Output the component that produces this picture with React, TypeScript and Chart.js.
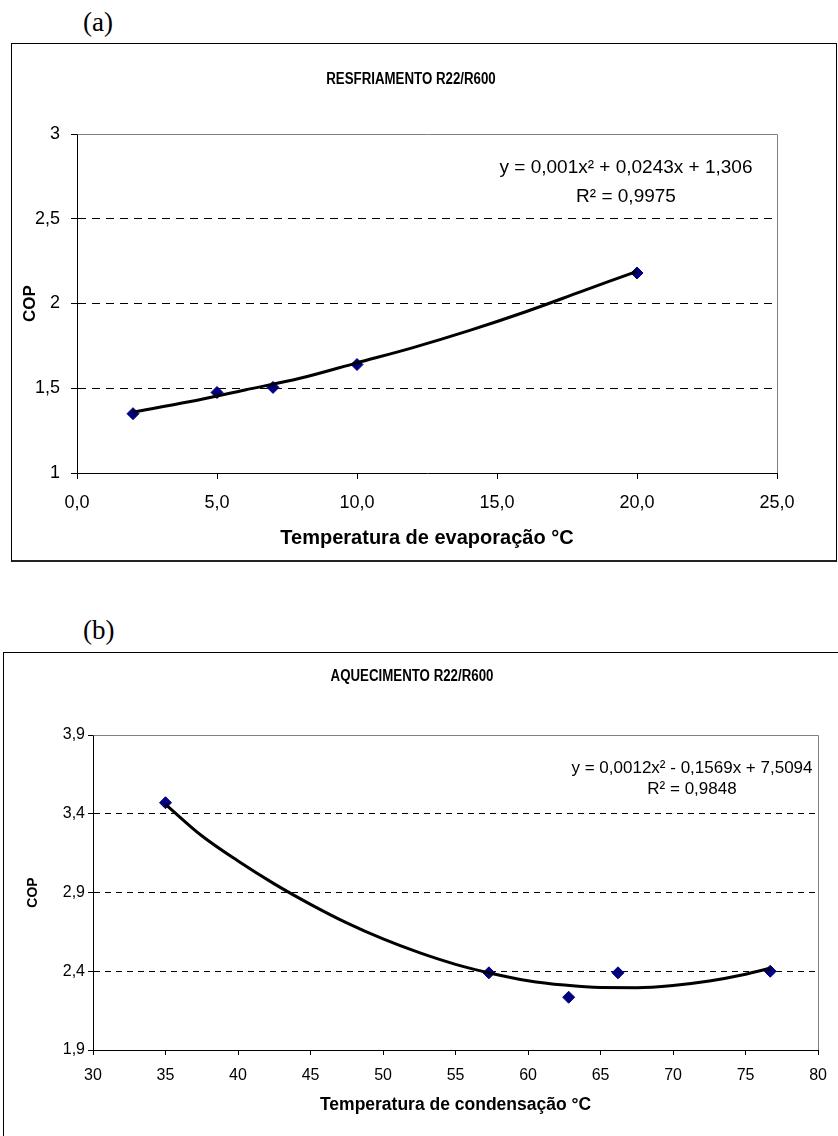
import React, { useEffect, useRef } from 'react';
import { Chart, registerables } from 'chart.js';

Chart.register(...registerables);

// ---------- (a) Resfriamento ----------
const evapTemps = [2, 5, 7, 10, 20];
const copCooling = [1.35, 1.475, 1.505, 1.64, 2.18];
const evapTrendX = [2, 4, 6, 8, 10, 12, 14, 16, 18, 20];
const evapTrendY = [1.36, 1.42, 1.49, 1.56, 1.65, 1.74, 1.84, 1.95, 2.07, 2.19];
const evapXTicks = [0, 5, 10, 15, 20, 25];
const copCoolingTicks = [1, 1.5, 2, 2.5, 3];

// ---------- (b) Aquecimento ----------
const condTemps = [35, 57.3, 62.8, 66.2, 76.7];
const copHeating = [3.47, 2.39, 2.235, 2.39, 2.4];
const condTrendX = [35, 37.5, 40, 42.5, 45, 47.5, 50, 52.5, 55, 57.5, 60, 62.5, 65, 67.5, 70, 72.5, 75, 76.7];
const condTrendY = [3.46, 3.26, 3.1, 2.955, 2.825, 2.707, 2.605, 2.518, 2.444, 2.386, 2.34, 2.312, 2.297, 2.296, 2.31, 2.338, 2.381, 2.419];
const condXTicks = [30, 35, 40, 45, 50, 55, 60, 65, 70, 75, 80];
const copHeatingTicks = [1.9, 2.4, 2.9, 3.4, 3.9];

const FONT = '"Liberation Sans", Arial, sans-serif';

const textPlugin = {
  id: 'copText',
  beforeDatasetsDraw(chart: any) {
    const { ctx, chartArea } = chart;
    ctx.save();
    // plot area frame (top + right), grey
    ctx.strokeStyle = '#808080';
    ctx.lineWidth = 1;
    ctx.setLineDash([]);
    ctx.beginPath();
    const t = Math.round(chartArea.top) + 0.5;
    const r = Math.round(chartArea.right) + 0.5;
    ctx.moveTo(Math.round(chartArea.left) + 0.5, t);
    ctx.lineTo(r, t);
    ctx.lineTo(r, Math.round(chartArea.bottom));
    ctx.stroke();
    ctx.restore();
  },
  afterDraw(chart: any, _args: any, opts: any) {
    const { ctx } = chart;
    ctx.save();
    ctx.fillStyle = '#000';
    ctx.textBaseline = 'middle';
    ctx.textAlign = 'center';
    if (opts.title) {
      const tt = opts.title;
      ctx.font = `bold ${tt.size}px ${FONT}`;
      ctx.save();
      ctx.translate(tt.x, tt.y);
      ctx.scale(tt.scaleX || 1, 1);
      ctx.fillText(tt.text, 0, 0);
      ctx.restore();
    }
    (opts.lines || []).forEach((ln: any) => {
      ctx.font = `${ln.size}px ${FONT}`;
      ctx.fillText(ln.text, ln.x, ln.y);
    });
    ctx.restore();
  },
};

const fmtComma = (d: number) => (v: number) => v.toFixed(d).replace('.', ',');
const fmtShort = (v: number) => String(v).replace('.', ',');

function makeConfig(p: any) {
  return {
    type: 'scatter',
    data: {
      datasets: [
        {
          data: p.trendX.map((x: number, i: number) => ({ x, y: p.trendY[i] })),
          showLine: true,
          pointRadius: 0,
          borderColor: '#000',
          borderWidth: 3,
          cubicInterpolationMode: 'monotone',
          fill: false,
        },
        {
          data: p.xs.map((x: number, i: number) => ({ x, y: p.ys[i] })),
          pointStyle: 'rectRot',
          pointRadius: 6,
          backgroundColor: '#000080',
          borderColor: '#000080',
          borderWidth: 1,
          showLine: false,
        },
      ],
    },
    options: {
      responsive: false,
      animation: false,
      devicePixelRatio: 1,
      layout: { padding: { top: p.padTop, right: p.padRight, left: 0, bottom: 0 } },
      plugins: {
        legend: { display: false },
        tooltip: { enabled: false },
        title: { display: false },
        copText: { title: p.title, lines: p.lines },
      },
      scales: {
        x: {
          type: 'linear',
          min: p.xTicks[0],
          max: p.xTicks[p.xTicks.length - 1],
          afterBuildTicks: (s: any) => { s.ticks = p.xTicks.map((v: number) => ({ value: v })); },
          afterFit: (s: any) => { s.height = p.xH; },
          ticks: { callback: p.xFmt, font: { family: FONT, size: p.tickSize }, color: '#000', padding: p.xTickPad, maxRotation: 0, autoSkip: false },
          grid: { drawOnChartArea: false, drawTicks: true, tickLength: p.tickLen, tickColor: '#000', color: '#000' },
          border: { display: true, color: '#000', width: 1 },
          title: { display: true, text: p.xTitle, color: '#000', font: { family: FONT, size: p.xTitleSize, weight: 'bold' }, padding: { top: 0, bottom: p.xTitlePad } },
        },
        y: {
          type: 'linear',
          min: p.yTicks[0],
          max: p.yTicks[p.yTicks.length - 1],
          afterBuildTicks: (s: any) => { s.ticks = p.yTicks.map((v: number) => ({ value: v })); },
          afterFit: (s: any) => { s.width = p.yW; },
          ticks: { callback: p.yFmt, font: { family: FONT, size: p.tickSize }, color: '#000', padding: p.yTickPad, autoSkip: false },
          grid: { drawOnChartArea: true, drawTicks: true, tickLength: p.tickLen, tickColor: '#000', color: '#000', lineWidth: 1 },
          border: { display: true, color: '#000', width: 1, dash: p.dash },
          title: { display: true, text: 'COP', color: '#000', font: { family: FONT, size: p.yTitleSize, weight: 'bold' }, padding: { top: p.yTitlePad, bottom: 0 } },
        },
      },
    },
    plugins: [textPlugin],
  };
}

function ChartCanvas({ params, width, height }: any) {
  const ref = useRef<HTMLCanvasElement>(null);
  useEffect(() => {
    const chart = new Chart(ref.current as HTMLCanvasElement, makeConfig(params) as any);
    return () => chart.destroy();
  }, []);
  return <canvas ref={ref} width={width} height={height} style={{ display: 'block', width, height }} />;
}

const paramsA = {
  xs: evapTemps, ys: copCooling, trendX: evapTrendX, trendY: evapTrendY,
  xTicks: evapXTicks, yTicks: copCoolingTicks,
  xFmt: fmtComma(1), yFmt: fmtShort,
  padTop: 90, padRight: 59, yW: 65, xH: 87,
  tickSize: 18, tickLen: 6, xTickPad: 13, yTickPad: 11,
  xTitle: 'Temperatura de evaporação °C', xTitleSize: 20, xTitlePad: 10,
  yTitleSize: 17, yTitlePad: 8,
  dash: [8, 6],
  title: { text: 'RESFRIAMENTO R22/R600', x: 411 - 12, y: 36, size: 16, scaleX: 0.83 },
  lines: [
    { text: 'y = 0,001x² + 0,0243x + 1,306', x: 614, y: 124, size: 19 },
    { text: 'R² = 0,9975', x: 614, y: 153, size: 19 },
  ],
};

const paramsB = {
  xs: condTemps, ys: copHeating, trendX: condTrendX, trendY: condTrendY,
  xTicks: condXTicks, yTicks: copHeatingTicks,
  xFmt: (v: number) => String(v), yFmt: fmtComma(1),
  padTop: 82, padRight: 11, yW: 89, xH: 86,
  tickSize: 16, tickLen: 5, xTickPad: 11, yTickPad: 3,
  xTitle: 'Temperatura de condensação °C', xTitleSize: 17.5, xTitlePad: 20,
  yTitleSize: 14, yTitlePad: 21,
  dash: [6, 5],
  title: { text: 'AQUECIMENTO R22/R600', x: 408, y: 24, size: 16, scaleX: 0.83 },
  lines: [
    { text: 'y = 0,0012x² - 0,1569x + 7,5094', x: 688, y: 115, size: 17 },
    { text: 'R² = 0,9848', x: 688, y: 136, size: 17 },
  ],
};

export default function App() {
  return (
    <div style={{ position: 'absolute', left: 0, top: 0, width: 838, height: 1136, overflow: 'hidden', background: '#fff' }}>
      <div style={{ position: 'absolute', left: 83, top: 7, font: '27px "Liberation Serif", serif', lineHeight: '30px' }}>(a)</div>
      <div style={{ position: 'absolute', left: 11, top: 43, width: 824, height: 516, border: '1px solid #000', borderBottom: '2px solid #222' }}>
        <ChartCanvas params={paramsA} width={824} height={516} />
      </div>
      <div style={{ position: 'absolute', left: 83, top: 615, font: '27px "Liberation Serif", serif', lineHeight: '30px' }}>(b)</div>
      <div style={{ position: 'absolute', left: 3, top: 652, width: 840, height: 520, border: '1px solid #000' }}>
        <ChartCanvas params={paramsB} width={834} height={483} />
      </div>
    </div>
  );
}
